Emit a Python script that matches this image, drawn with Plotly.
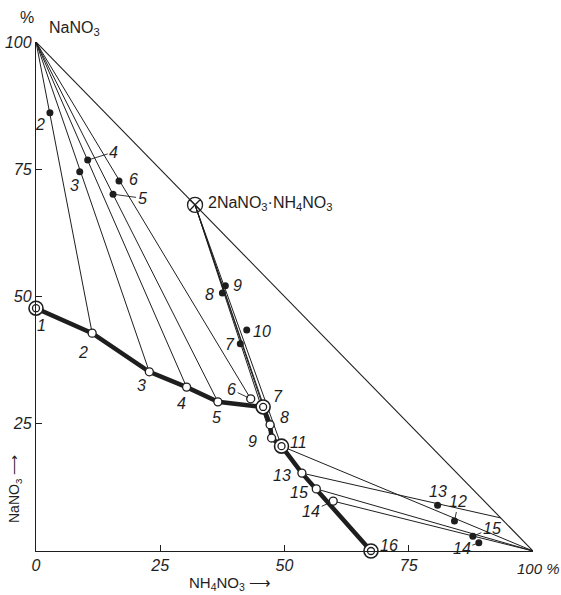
import plotly.graph_objects as go

# ---- data (wt-% NH4NO3 on x, wt-% NaNO3 on y) ----
# liquid (saturated solution) compositions
liq_labels = ["1", "2", "3", "4", "5", "6", "7", "8", "9", "11", "13", "15", "14", "16"]
liq_x = [0.0, 11.3, 22.8, 30.3, 36.6, 43.2, 45.7, 47.1, 47.4, 49.4, 53.5, 56.4, 59.8, 67.4]
liq_y = [47.7, 42.8, 35.2, 32.2, 29.3, 29.9, 28.3, 24.8, 22.2, 20.6, 15.3, 12.2, 9.8, 0.0]
invariant_labels = ["1", "7", "11", "16"]

# points along the thick solubility curve
curve_labels = ["1", "2", "3", "4", "5", "7", "8", "9", "11", "13", "16"]

# wet residues (solid phase points)
sol_labels = ["2", "3", "4", "5", "6", "9", "8", "10", "7", "13", "12", "15", "14"]
sol_x = [2.8, 8.8, 10.4, 15.5, 16.7, 38.1, 37.5, 42.4, 41.1, 80.8, 84.2, 87.9, 89.1]
sol_y = [86.1, 74.5, 76.8, 70.1, 72.7, 52.1, 50.7, 43.4, 40.7, 9.0, 5.9, 2.9, 1.6]

# pure solid phases
phase_names = ["NaNO3", "2NaNO3·NH4NO3", "NH4NO3", "NH4NO3 (ss)"]
phase_x = [0.0, 32.0, 100.0, 93.5]
phase_y = [100.0, 68.0, 0.0, 6.5]

# tie lines: (liquid label, solid phase index)
tie_lines = [("2", 0), ("3", 0), ("4", 0), ("5", 0), ("6", 0),
             ("7", 1), ("8", 1), ("9", 1), ("11", 1),
             ("11", 2), ("13", 3), ("15", 2), ("14", 2)]

x_ticks = [0, 25, 50, 75, 100]
x_ticktext = ["0", "25", "50", "75", ""]   # the 100 % label is drawn separately
x_last_label = "100 %"
y_ticks = [25, 50, 75, 100]
y_ticktext = ["25", "50", "75", "100"]

# ---- styling (label offsets in pixels: dx right, dy down, leader line?) ----
liq_label_pos = {
    "1": (5, 17, False), "2": (-9, 19, False), "3": (-8, 14, False), "4": (-5, 16, False),
    "5": (-1, 16, False), "6": (-19, -9, True), "7": (15, -10, False), "8": (14, -7, False),
    "9": (-19, 3, False), "11": (17, -4, False), "13": (-20, 2, False), "15": (-17, 4, False),
    "14": (-22, 10, True), "16": (18, -6, False),
}
sol_label_pos = {
    "2": (-10, 12, False), "3": (-5, 14, False), "4": (26, -8, True), "6": (14, -1, False),
    "5": (29, 4, True), "9": (12, 0, False), "8": (-13, 2, False), "10": (15, 1, False),
    "7": (-10, 1, False), "13": (0, -14, False), "12": (4, -19, True), "15": (19, -8, True),
    "14": (-17, 6, True),
}

INK = "#1e1e1e"
FONT = "Liberation Sans"

liq = {l: (x, y) for l, x, y in zip(liq_labels, liq_x, liq_y)}
sol = {l: (x, y) for l, x, y in zip(sol_labels, sol_x, sol_y)}

fig = go.Figure()

# hypotenuse (anhydrous side)
fig.add_trace(go.Scatter(x=[phase_x[0], phase_x[2]], y=[phase_y[0], phase_y[2]], mode="lines",
                         line=dict(color=INK, width=1.1), cliponaxis=False, hoverinfo="skip"))

# tie lines
tx, ty = [], []
for lab, p in tie_lines:
    tx += [liq[lab][0], phase_x[p], None]
    ty += [liq[lab][1], phase_y[p], None]
fig.add_trace(go.Scatter(x=tx, y=ty, mode="lines", line=dict(color=INK, width=1.0),
                         cliponaxis=False, hoverinfo="skip"))

# thick solubility curve
fig.add_trace(go.Scatter(x=[liq[l][0] for l in curve_labels], y=[liq[l][1] for l in curve_labels],
                         mode="lines", line=dict(color=INK, width=4.5), cliponaxis=False,
                         hoverinfo="skip"))

# liquid points (open circles)
fig.add_trace(go.Scatter(x=liq_x, y=liq_y, mode="markers", cliponaxis=False,
                         marker=dict(symbol="circle", size=8, color="white",
                                     line=dict(color=INK, width=1.3))))
# invariant points (double circles)
ix = [liq[l][0] for l in invariant_labels]
iy = [liq[l][1] for l in invariant_labels]
fig.add_trace(go.Scatter(x=ix, y=iy, mode="markers", cliponaxis=False,
                         marker=dict(symbol="circle", size=14, color="white",
                                     line=dict(color=INK, width=1.6))))
fig.add_trace(go.Scatter(x=ix, y=iy, mode="markers", cliponaxis=False,
                         marker=dict(symbol="circle-open", size=7, color=INK,
                                     line=dict(color=INK, width=1.3))))

# wet residues (filled)
fig.add_trace(go.Scatter(x=sol_x, y=sol_y, mode="markers", cliponaxis=False,
                         marker=dict(symbol="circle", size=7, color=INK)))

# double salt
fig.add_trace(go.Scatter(x=[phase_x[1]], y=[phase_y[1]], mode="markers", cliponaxis=False,
                         marker=dict(symbol="circle-x-open", size=15, color=INK,
                                     line=dict(color=INK, width=1.3))))

ann = []
lab_font = dict(family=FONT, size=16, color=INK, style="italic")


def add_label(text, x, y, pos):
    dx, dy, leader = pos
    if leader:
        ann.append(dict(x=x, y=y, xref="x", yref="y", text=text, showarrow=True,
                        arrowhead=0, arrowwidth=0.9, arrowcolor=INK, ax=dx, ay=dy,
                        standoff=3, font=lab_font))
    else:
        ann.append(dict(x=x, y=y, xref="x", yref="y", text=text, showarrow=False,
                        xshift=dx, yshift=-dy, font=lab_font))


for l in liq_labels:
    add_label(l, liq[l][0], liq[l][1], liq_label_pos[l])
for l in sol_labels:
    add_label(l, sol[l][0], sol[l][1], sol_label_pos[l])

ann.append(dict(x=phase_x[1], y=phase_y[1], xref="x", yref="y", showarrow=False,
                xanchor="left", xshift=11, yshift=1,
                text="2NaNO<sub>3</sub>·NH<sub>4</sub>NO<sub>3</sub>",
                font=dict(family=FONT, size=16, color=INK)))
ann.append(dict(x=phase_x[0], y=phase_y[0], xref="x", yref="y", showarrow=False,
                xanchor="left", xshift=11, yshift=14, text="NaNO<sub>3</sub>",
                font=dict(family=FONT, size=16, color=INK)))
ann.append(dict(x=phase_x[0], y=phase_y[0], xref="x", yref="y", showarrow=False,
                xshift=-9, yshift=25, text="%",
                font=dict(family=FONT, size=16, color=INK)))
# "100 %" label at the end of the x axis
ann.append(dict(x=x_ticks[-1], y=0, xref="x", yref="y", showarrow=False,
                xshift=5, yshift=-17, text=x_last_label,
                font=dict(family=FONT, size=15, color=INK, style="italic")))
# axis titles
ann.append(dict(x=0, y=0, xref="x", yref="y", showarrow=False, xshift=-21, yshift=62,
                textangle=-90, text="NaNO<sub>3</sub> ⟶",
                font=dict(family=FONT, size=14, color=INK)))
ann.append(dict(x=39, y=0, xref="x", yref="y", showarrow=False, yshift=-32,
                text="NH<sub>4</sub>NO<sub>3</sub> ⟶",
                font=dict(family=FONT, size=15, color=INK)))

fig.update_layout(
    width=561, height=595, autosize=False,
    margin=dict(l=36, r=28, t=42, b=44),
    paper_bgcolor="white", plot_bgcolor="white",
    showlegend=False, annotations=ann,
    xaxis=dict(range=[0, 100], showgrid=False, zeroline=False, showline=True,
               linecolor=INK, linewidth=1.3, ticks="inside", ticklen=6, tickwidth=1.2,
               tickcolor=INK, tickvals=x_ticks, ticktext=x_ticktext, automargin=False,
               tickfont=dict(family=FONT, size=16, color=INK, style="italic")),
    yaxis=dict(range=[0, 100], showgrid=False, zeroline=False, showline=True,
               linecolor=INK, linewidth=1.3, ticks="inside", ticklen=6, tickwidth=1.2,
               tickcolor=INK, tickvals=y_ticks, ticktext=y_ticktext, automargin=False,
               tickfont=dict(family=FONT, size=16, color=INK, style="italic")),
)

fig.write_html("out.html", config={"displayModeBar": False},
               post_script="document.body.style.margin='0';document.body.style.overflow='hidden';")
